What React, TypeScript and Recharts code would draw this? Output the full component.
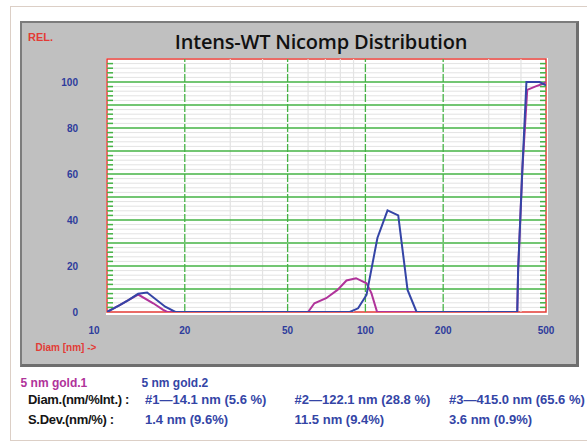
import React from 'react';
import { LineChart, Line, XAxis, YAxis, ReferenceLine, ReferenceArea } from 'recharts';

// ---- data ----
const gold1Diam = [10, 11.2, 12.1, 13.2, 15.1, 16.5, 17.1, 60, 63.5, 70.5, 78, 84.5, 92, 101, 105.5, 111, 387, 390, 405, 423, 456, 484, 500];
const gold1Int = [0, 3, 5.2, 7.6, 3.8, 0.9, 0, 0, 3.8, 6, 9.6, 13.7, 14.7, 12.5, 8.2, 0, 0, 18, 62, 96.6, 98.1, 99.1, 100];
const gold2Diam = [10, 11.2, 12.1, 13.2, 14.3, 16.8, 18.4, 87, 93.7, 101, 111.3, 121.8, 134, 145.6, 157.8, 387, 390, 405, 420, 472, 500];
const gold2Int = [0, 3, 5.2, 7.9, 8.5, 2.3, 0, 0, 1.6, 7.4, 32.2, 44.2, 42, 9.6, 0, 0, 18, 62, 100, 100, 98.5];

const xTickValues = [10, 20, 50, 100, 200, 500];
const yTickValues = [0, 20, 40, 60, 80, 100];
const xMajorGrid = [20, 50, 100, 200];
const xMinorGrid = [30, 40, 60, 70, 80, 90, 300, 400];
const yMajorGrid = [10, 20, 30, 40, 50, 60, 70, 80, 90, 100];
const yMinorGrid = [2, 4, 6, 8, 12, 14, 16, 18, 22, 24, 26, 28, 32, 34, 36, 38, 42, 44, 46, 48, 52, 54, 56, 58, 62, 64, 66, 68, 72, 74, 76, 78, 82, 84, 86, 88, 92, 94, 96, 98, 102, 104, 106, 108];
const yEdgeTicks = yMinorGrid;

const seriesNames = ['5 nm gold.1', '5 nm gold.2'];
const rowLabels = ['Diam.(nm/%Int.) :', 'S.Dev.(nm/%) :'];
const diamValues = ['#1\u201414.1 nm (5.6 %)', '#2\u2014122.1 nm (28.8 %)', '#3\u2014415.0 nm (65.6 %)'];
const sdevValues = ['1.4 nm (9.6%)', '11.5 nm (9.4%)', '3.6 nm (0.9%)'];
const titleText = 'Intens-WT Nicomp Distribution';

const gold1Data = gold1Diam.map((d, i) => ({ d, v: gold1Int[i] }));
const gold2Data = gold2Diam.map((d, i) => ({ d, v: gold2Int[i] }));

const MAGENTA = '#b0339a';
const BLUE = '#3445a6';
const LABEL_BLUE = '#2e3c9c';
const RED = '#e33b35';
const GREEN = '#45b345';
const MINOR = '#e3e3e3';
const SANS = '"Liberation Sans", Arial, sans-serif';

const XTick = (props: any) => {
  const { x, y, payload } = props;
  const shift = payload.value === 10 ? -13 : 0;
  return (
    <text x={x + shift} y={y + 16} textAnchor="middle" dominantBaseline="central"
      fill={LABEL_BLUE} fontSize={10} fontWeight={700} fontFamily={SANS}>
      {payload.value}
    </text>
  );
};

const NoLabel = () => null;

const abs = (s: React.CSSProperties): React.CSSProperties => ({ position: 'absolute', whiteSpace: 'nowrap', ...s });

export default function App() {
  const colLeft = [145, 294.5, 449];
  const tickLineStyle = { stroke: GREEN, strokeWidth: 1.5 };
  return (
    <div style={{ position: 'absolute', left: 0, top: 0, width: 587, height: 441, background: '#fff', overflow: 'hidden', fontFamily: SANS }}>
      <div style={abs({ left: 10, top: 6, width: 620, height: 433, border: '1px solid #dccfc6' })} />
      <div style={abs({ left: 20, top: 21, width: 554, height: 341, background: '#c0c0c0', borderTop: '2px solid #7c7c7c', borderLeft: '2px solid #7c7c7c', borderRight: '3px solid #6e6e6e', borderBottom: '3px solid #6e6e6e' })} />
      <div style={abs({ left: 106, top: 58, width: 442, height: 257, background: '#fff' })} />
      <div style={abs({ left: 28, top: 30, fontSize: 11, lineHeight: '14px', fontWeight: 700, color: RED })}>REL.</div>
      <div style={abs({ left: 321, top: 30, transform: 'translateX(-50%)', fontSize: 20, lineHeight: '24px', fontWeight: 600, fontFamily: '"Open Sans", sans-serif', color: '#111', letterSpacing: -0.2 })}>{titleText}</div>
      <div style={abs({ left: 35.5, top: 341, fontSize: 10, lineHeight: '14px', fontWeight: 700, color: RED })}>Diam [nm] -&gt;</div>

      <div style={abs({ left: 0, top: 0 })}>
        <LineChart width={587} height={441} margin={{ top: 59, right: 41, bottom: 99, left: 47 }}>
          <XAxis xAxisId="x" dataKey="d" type="number" scale="log" domain={[10, 500]} allowDataOverflow
            ticks={xTickValues} height={30} axisLine={false} tickLine={false} tickSize={0} tick={<XTick />} interval={0} />
          <XAxis xAxisId="xt" orientation="top" mirror type="number" scale="log" domain={[10, 500]} allowDataOverflow
            ticks={xMinorGrid} height={1} axisLine={false} tick={NoLabel} tickSize={4} tickLine={tickLineStyle} interval={0} />
          <XAxis xAxisId="xb" orientation="bottom" mirror type="number" scale="log" domain={[10, 500]} allowDataOverflow
            ticks={xMinorGrid} height={1} axisLine={false} tick={NoLabel} tickSize={4} tickLine={tickLineStyle} interval={0} />
          <YAxis yAxisId="y" type="number" domain={[0, 110]} allowDataOverflow ticks={yTickValues} width={60}
            axisLine={false} tickLine={false} tickSize={0} tickMargin={29} interval={0}
            tick={{ fill: LABEL_BLUE, fontSize: 10, fontWeight: 700, fontFamily: SANS }} />
          <YAxis yAxisId="yl" orientation="left" mirror type="number" domain={[0, 110]} allowDataOverflow ticks={yEdgeTicks} width={1}
            axisLine={false} tick={NoLabel} tickSize={6} tickLine={tickLineStyle} interval={0} />
          <YAxis yAxisId="yr" orientation="right" mirror type="number" domain={[0, 110]} allowDataOverflow ticks={yEdgeTicks} width={1}
            axisLine={false} tick={NoLabel} tickSize={6} tickLine={tickLineStyle} interval={0} />

          {yMinorGrid.map((v) => (
            <ReferenceLine key={'ym' + v} xAxisId="x" yAxisId="y" y={v} stroke={MINOR} strokeWidth={1} />
          ))}
          {xMinorGrid.map((v) => (
            <ReferenceLine key={'xm' + v} xAxisId="x" yAxisId="y" x={v} stroke={MINOR} strokeWidth={1.2} />
          ))}
          {yMajorGrid.map((v) => (
            <ReferenceLine key={'yM' + v} xAxisId="x" yAxisId="y" y={v} stroke={GREEN} strokeWidth={1.3} />
          ))}
          {xMajorGrid.map((v) => (
            <ReferenceLine key={'xM' + v} xAxisId="x" yAxisId="y" x={v} stroke={GREEN} strokeWidth={1.3} strokeDasharray="8 2" />
          ))}
          <ReferenceArea xAxisId="x" yAxisId="y" x1={10} x2={500} y1={0} y2={110} fill="none" stroke={RED} strokeWidth={1.5} />

          <Line xAxisId="x" yAxisId="y" data={gold1Data} dataKey="v" type="linear" stroke={MAGENTA} strokeWidth={2}
            dot={false} activeDot={false} isAnimationActive={false} name={seriesNames[0]} />
          <Line xAxisId="x" yAxisId="y" data={gold2Data} dataKey="v" type="linear" stroke={BLUE} strokeWidth={2}
            dot={false} activeDot={false} isAnimationActive={false} name={seriesNames[1]} />
        </LineChart>
      </div>

      <div style={abs({ left: 20.6, top: 375, fontSize: 12, lineHeight: '16px', fontWeight: 700, color: MAGENTA })}>{seriesNames[0]}</div>
      <div style={abs({ left: 141.5, top: 375, fontSize: 12, lineHeight: '16px', fontWeight: 700, color: BLUE })}>{seriesNames[1]}</div>

      <div style={abs({ left: 28, top: 392, fontSize: 13, lineHeight: '16px', fontWeight: 700, letterSpacing: -0.3, color: '#151515' })}>{rowLabels[0]}</div>
      <div style={abs({ left: 28, top: 412, fontSize: 13, lineHeight: '16px', fontWeight: 700, letterSpacing: -0.3, color: '#151515' })}>{rowLabels[1]}</div>
      {diamValues.map((t, i) => (
        <div key={'d' + i} style={abs({ left: colLeft[i], top: 392, fontSize: 13, lineHeight: '16px', fontWeight: 700, color: BLUE })}>{t}</div>
      ))}
      {sdevValues.map((t, i) => (
        <div key={'s' + i} style={abs({ left: colLeft[i], top: 412, fontSize: 13, lineHeight: '16px', fontWeight: 700, color: BLUE })}>{t}</div>
      ))}
    </div>
  );
}
